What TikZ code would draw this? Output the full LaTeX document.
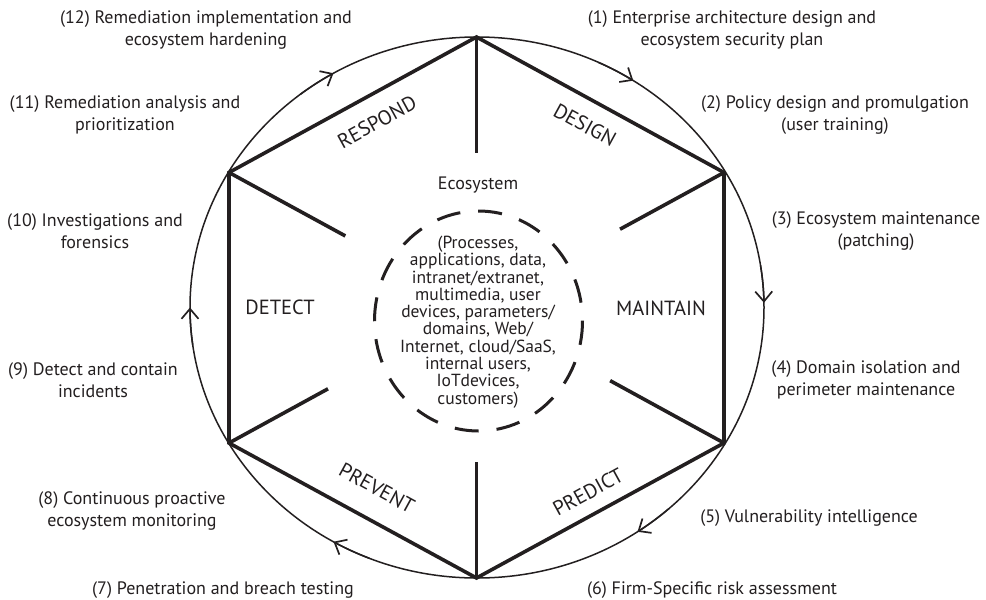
\documentclass[tikz,border=0pt]{standalone}
\usepackage{fontspec}
\setmainfont{PT Sans}
\usetikzlibrary{arrows.meta,calc}
\definecolor{ink}{HTML}{231F20}
\begin{document}
\begin{tikzpicture}[x=1pt,y=-1pt,
  hexline/.style={draw=ink,line width=3.6pt,line join=miter},
  circline/.style={draw=ink,line width=1.5pt},
  tipline/.style={circline,-{Straight Barb[length=10pt,width=17pt,line width=1.7pt]}},
  dashring/.style={draw=ink,line width=3pt,dash pattern=on 24pt off 18pt},
  lbl/.style={text=ink,font=\fontsize{18}{22}\selectfont,align=center,inner sep=0pt},
  phase/.style={text=ink,font=\fontsize{20.5}{22}\selectfont,inner sep=0pt},
  ecotext/.style={text=ink,font=\fontsize{17.5}{17.3}\selectfont,align=center,inner sep=0pt}]
\useasboundingbox (0,0) rectangle (986,600);
\fill[white] (0,0) rectangle (986,600);
% geometry
\coordinate (C) at (476.5,307.5);
\coordinate (E) at (477,307.5);
\coordinate (T) at (476.5,37);
\coordinate (UR) at (724,172.5);
\coordinate (LR) at (724,443);
\coordinate (B) at (476.5,578);
\coordinate (LL) at (229,443);
\coordinate (UL) at (229,172.5);
% outer cycle
\draw[circline] (E) ellipse [x radius=287, y radius=270.5];
\foreach \t in {240,303,359,56,120,180}
  \draw[tipline] ($(E)+(\t-8:287 and 270.5)$) arc[start angle=\t-8, end angle=\t, x radius=287, y radius=270.5];
% hexagon
\draw[hexline] (T) -- (UR) -- (LR) -- (B) -- (LL) -- (UL) -- cycle;
\draw[hexline] (T) -- ($(T)!0.43!(C)$);
\draw[hexline] (B) -- ($(B)!0.43!(C)$);
\draw[hexline] (UL) -- ($(UL)!0.47!(C)$);
\draw[hexline] (LL) -- ($(LL)!0.40!(C)$);
\draw[hexline] (UR) -- ($(UR)!0.42!(C)$);
\draw[hexline] (LR) -- ($(LR)!0.46!(C)$);
% ecosystem
\draw[dashring] (478.5,321) ellipse [x radius=104, y radius=110];
\node[lbl] (eco) at (478,185) {Ecosystem};
\node[ecotext] (ecolist) at (478,322) {(Processes,\\applications, data,\\intranet/extranet,\\multimedia, user\\devices, parameters/\\domains, Web/\\Internet, cloud/SaaS,\\internal users,\\IoTdevices,\\customers)};
% phases
\node[phase,rotate=28.7] (respond) at (377,122) {RESPOND};
\node[phase,rotate=-28.7] (design) at (585,125) {DESIGN};
\node[phase,rotate=-28.7] (prevent) at (377,488) {PREVENT};
\node[phase,rotate=28.7] (predict) at (588,492) {PREDICT};
\node[phase] (detect) at (280,307) {DETECT};
\node[phase] (maintain) at (661,308) {MAINTAIN};
% steps
\node[lbl] (s1) at (732,30) {(1) Enterprise architecture design and\\ecosystem security plan};
\node[lbl] (s2) at (835,115) {(2) Policy design and promulgation\\(user training)};
\node[lbl] (s3) at (876,231.5) {(3) Ecosystem maintenance\\(patching)};
\node[lbl] (s4) at (866,380) {(4) Domain isolation and\\perimeter maintenance};
\node[lbl] (s5) at (809,518) {(5) Vulnerability intelligence};
\node[lbl] (s6) at (712,590) {(6) Firm-Specific risk assessment};
\node[lbl] (s7) at (223,590) {(7) Penetration and breach testing};
\node[lbl] (s8) at (132,510.5) {(8) Continuous proactive\\ecosystem monitoring};
\node[lbl] (s9) at (93,380) {(9) Detect and contain\\incidents};
\node[lbl] (s10) at (95,231.5) {(10) Investigations and\\forensics};
\node[lbl] (s11) at (125,115) {(11) Remediation analysis and\\prioritization};
\node[lbl] (s12) at (206,30) {(12) Remediation implementation and\\ecosystem hardening};
\end{tikzpicture}
\end{document}
